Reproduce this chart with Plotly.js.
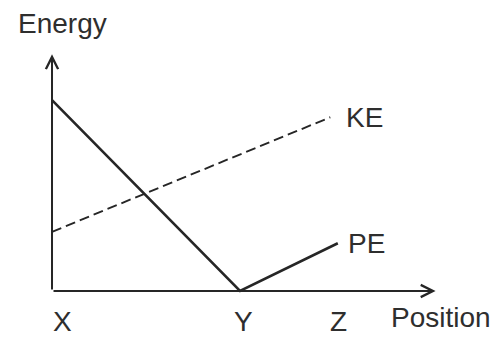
<!DOCTYPE html>
<html>
<head>
<meta charset="utf-8">
<script src="https://cdn.plot.ly/plotly-3.0.1.min.js"></script>
<style>html,body{margin:0;padding:0;background:#fff;}#chart{width:498px;height:338px;}</style>
</head>
<body>
<div id="chart"></div>
<script>
// Positions along the track (X = 0, Y = 1, Z)
var positionNames = ['X', 'Y', 'Z'];
var positionValues = [0, 1, 1.52];

// Potential energy: falls from X to Y, rises from Y to Z
var peX = [0, 1, 1.52];
var peY = [10, 0, 2.5];

// Kinetic energy (dashed): rises steadily
var keX = [0, 1.48];
var keY = [3.1, 9.1];

// Axis extents (data units)
var xAxisEnd = 2.04;
var yAxisEnd = 12.4;

var ink = '#262626';
var font = {family: 'Liberation Sans, Arial, sans-serif', size: 28, color: '#2e2e2e'};

var traces = [
  {x: peX, y: peY, mode: 'lines', name: 'PE', line: {color: ink, width: 2.6}, hoverinfo: 'skip'},
  {x: keX, y: keY, mode: 'lines', name: 'KE', line: {color: ink, width: 1.9, dash: '10px,5px'}, hoverinfo: 'skip'}
];

var labelShift = [0, -7, -9];

var annotations = [
  // x axis with arrow
  {x: xAxisEnd, y: 0, ax: 0, ay: 0, axref: 'x', ayref: 'y', xref: 'x', yref: 'y', text: '', showarrow: true,
   arrowhead: 5, arrowsize: 1.2, arrowwidth: 2, arrowcolor: ink},
  // y axis with arrow
  {x: 0, y: yAxisEnd, ax: 0, ay: 0, axref: 'x', ayref: 'y', xref: 'x', yref: 'y', text: '', showarrow: true,
   arrowhead: 5, arrowsize: 1.2, arrowwidth: 2, arrowcolor: ink},
  // axis titles
  {x: 0.055, y: 1, xref: 'x', yref: 'paper', text: 'Energy', showarrow: false, font: font,
   xanchor: 'center', yanchor: 'top', yshift: -6},
  {x: 2.07, y: 0, xref: 'x', yref: 'paper', text: 'Position', showarrow: false, font: font,
   xanchor: 'center', yanchor: 'bottom', yshift: 3},
  // series labels
  {x: keX[1], y: keY[1], xref: 'x', yref: 'y', text: 'KE', showarrow: false, font: font, xanchor: 'left', xshift: 14},
  {x: peX[2], y: peY[2], xref: 'x', yref: 'y', text: 'PE', showarrow: false, font: font, xanchor: 'left', xshift: 8}
];

positionNames.forEach(function (name, i) {
  annotations.push({x: positionValues[i], y: 0, xref: 'x', yref: 'paper', text: name, showarrow: false,
    font: font, xanchor: 'center', yanchor: 'bottom', yshift: -1, xshift: 10 + labelShift[i]});
});

var layout = {
  width: 498, height: 338,
  margin: {l: 0, r: 0, t: 0, b: 0},
  paper_bgcolor: '#fff', plot_bgcolor: '#fff',
  showlegend: false,
  xaxis: {range: [-0.2766, 2.372], visible: false, fixedrange: true},
  yaxis: {range: [-2.46, 15.24], visible: false, fixedrange: true},
  annotations: annotations
};

Plotly.newPlot('chart', traces, layout, {staticPlot: true, displayModeBar: false});
</script>
</body>
</html>
